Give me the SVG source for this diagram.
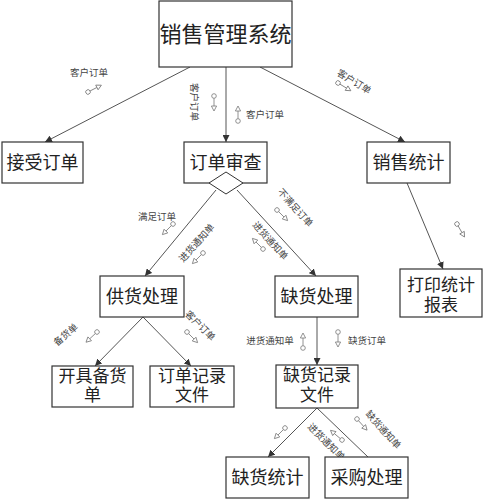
<svg xmlns="http://www.w3.org/2000/svg" width="484" height="500" viewBox="0 0 484 500">
<defs>
<style>
.box{fill:#fff;stroke:#333;stroke-width:1.2}
.t{font-family:"Liberation Serif","Noto Sans CJK SC",serif;fill:#222;text-anchor:middle}
.big{font-size:22px}
.n{font-size:18px}
.n2{font-size:17px}
.lbl{font-family:"Liberation Serif","Noto Sans CJK SC",serif;font-size:9.5px;fill:#444;text-anchor:middle}
.c{stroke:#555;stroke-width:1;fill:none}
.g{stroke:#777;stroke-width:0.8;fill:#fff}
</style>
<marker id="ah" viewBox="0 0 10 10" refX="10" refY="5" markerWidth="7" markerHeight="7" orient="auto" markerUnits="userSpaceOnUse">
<path d="M0,0 L10,5 L0,10 z" fill="#333"/>
</marker>
<g id="flow">
<circle class="g" cx="0" cy="0" r="2.3"/>
<line class="g" x1="2.3" y1="0" x2="10" y2="0"/>
<path class="g" d="M10,-2.6 L15,0 L10,2.6 z"/>
</g>
</defs>
<rect width="484" height="500" fill="#fff"/>

<g id="connectors">
<line class="c" x1="190" y1="67" x2="45" y2="142" marker-end="url(#ah)"/>
<line class="c" x1="226" y1="67" x2="226" y2="142" marker-end="url(#ah)"/>
<line class="c" x1="260" y1="67" x2="405" y2="142" marker-end="url(#ah)"/>
<line class="c" x1="216" y1="190" x2="145" y2="276" marker-end="url(#ah)"/>
<line class="c" x1="237" y1="190" x2="316" y2="276" marker-end="url(#ah)"/>
<line class="c" x1="407" y1="183" x2="443" y2="269" marker-end="url(#ah)"/>
<line class="c" x1="143" y1="317" x2="95" y2="366" marker-end="url(#ah)"/>
<line class="c" x1="143" y1="317" x2="191" y2="366" marker-end="url(#ah)"/>
<line class="c" x1="317" y1="317" x2="317" y2="365" marker-end="url(#ah)"/>
<line class="c" x1="317" y1="408" x2="268" y2="457" marker-end="url(#ah)"/>
<line class="c" x1="317" y1="408" x2="368" y2="457"/>
</g>

<g id="flows">
<use href="#flow" transform="translate(88,92) rotate(-27)"/>
<use href="#flow" transform="translate(214,96) rotate(90)"/>
<use href="#flow" transform="translate(238,121) rotate(-90)"/>
<use href="#flow" transform="translate(338,83) rotate(31)"/>
<use href="#flow" transform="translate(173,224) rotate(135)"/>
<use href="#flow" transform="translate(203,253) rotate(135)"/>
<use href="#flow" transform="translate(277,210) rotate(45)"/>
<use href="#flow" transform="translate(263,249) rotate(-135)"/>
<use href="#flow" transform="translate(457,224) rotate(60)"/>
<use href="#flow" transform="translate(97,332) rotate(137)"/>
<use href="#flow" transform="translate(187,332) rotate(45)"/>
<use href="#flow" transform="translate(303,348) rotate(-90)"/>
<use href="#flow" transform="translate(338,332) rotate(90)"/>
<use href="#flow" transform="translate(285,428) rotate(135)"/>
<use href="#flow" transform="translate(342,440) rotate(-140)"/>
<use href="#flow" transform="translate(357,419) rotate(48)"/>
</g>

<g id="labels">
<text class="lbl" x="89" y="76">客户订单</text>
<text class="lbl" transform="translate(194,102) rotate(90)" y="3">客户订单</text>
<text class="lbl" x="265" y="118">客户订单</text>
<text class="lbl" transform="translate(354,82) rotate(31)" y="3">客户订单</text>
<text class="lbl" x="157" y="220">满足订单</text>
<text class="lbl" transform="translate(197,243) rotate(-48)" y="3">进货通知单</text>
<text class="lbl" transform="translate(295,208) rotate(48)" y="3">不满足订单</text>
<text class="lbl" transform="translate(270,241) rotate(48)" y="3">进货通知单</text>
<text class="lbl" transform="translate(66,335) rotate(-40)" y="3">备货单</text>
<text class="lbl" transform="translate(200,326) rotate(45)" y="3">客户订单</text>
<text class="lbl" x="270" y="344">进货通知单</text>
<text class="lbl" x="367" y="344">缺货订单</text>
<text class="lbl" transform="translate(326,442) rotate(45)" y="3">进货通知单</text>
<text class="lbl" transform="translate(383,430) rotate(48)" y="3">缺货通知单</text>
</g>

<g id="n-system">
<rect class="box" x="159" y="1" width="133" height="66"/>
<text class="t big" x="225.5" y="42">销售管理系统</text>
</g>
<g id="n-receive">
<rect class="box" x="2" y="142" width="81" height="41"/>
<text class="t n" x="42.5" y="169">接受订单</text>
</g>
<g id="n-review">
<rect class="box" x="184" y="142" width="83" height="41"/>
<text class="t n" x="225.5" y="169">订单审查</text>
<polygon points="226,172 243,183 226,194 209,183" fill="#fff" stroke="#333" stroke-width="1"/>
</g>
<g id="n-stats">
<rect class="box" x="367" y="142" width="83" height="41"/>
<text class="t n" x="408.5" y="169">销售统计</text>
</g>
<g id="n-print">
<rect class="box" x="400" y="269" width="82" height="48"/>
<text class="t n2" x="441" y="291">打印统计</text>
<text class="t n2" x="441" y="311">报表</text>
</g>
<g id="n-supply">
<rect class="box" x="100" y="276" width="84" height="41"/>
<text class="t n" x="142" y="303">供货处理</text>
</g>
<g id="n-shortage">
<rect class="box" x="275" y="276" width="83" height="41"/>
<text class="t n" x="316.5" y="303">缺货处理</text>
</g>
<g id="n-prepare">
<rect class="box" x="52" y="366" width="81" height="41"/>
<text class="t n2" x="92.5" y="382">开具备货</text>
<text class="t n2" x="92.5" y="401">单</text>
</g>
<g id="n-orderfile">
<rect class="box" x="150" y="366" width="84" height="41"/>
<text class="t n2" x="192" y="382">订单记录</text>
<text class="t n2" x="192" y="401">文件</text>
</g>
<g id="n-shortfile">
<rect class="box" x="276" y="365" width="82" height="43"/>
<text class="t n2" x="317" y="381">缺货记录</text>
<text class="t n2" x="317" y="401">文件</text>
</g>
<g id="n-shortstats">
<rect class="box" x="226" y="457" width="83" height="41"/>
<text class="t n" x="267.5" y="484">缺货统计</text>
</g>
<g id="n-purchase">
<rect class="box" x="325" y="457" width="83" height="41"/>
<text class="t n" x="366.5" y="484">采购处理</text>
</g>
</svg>
